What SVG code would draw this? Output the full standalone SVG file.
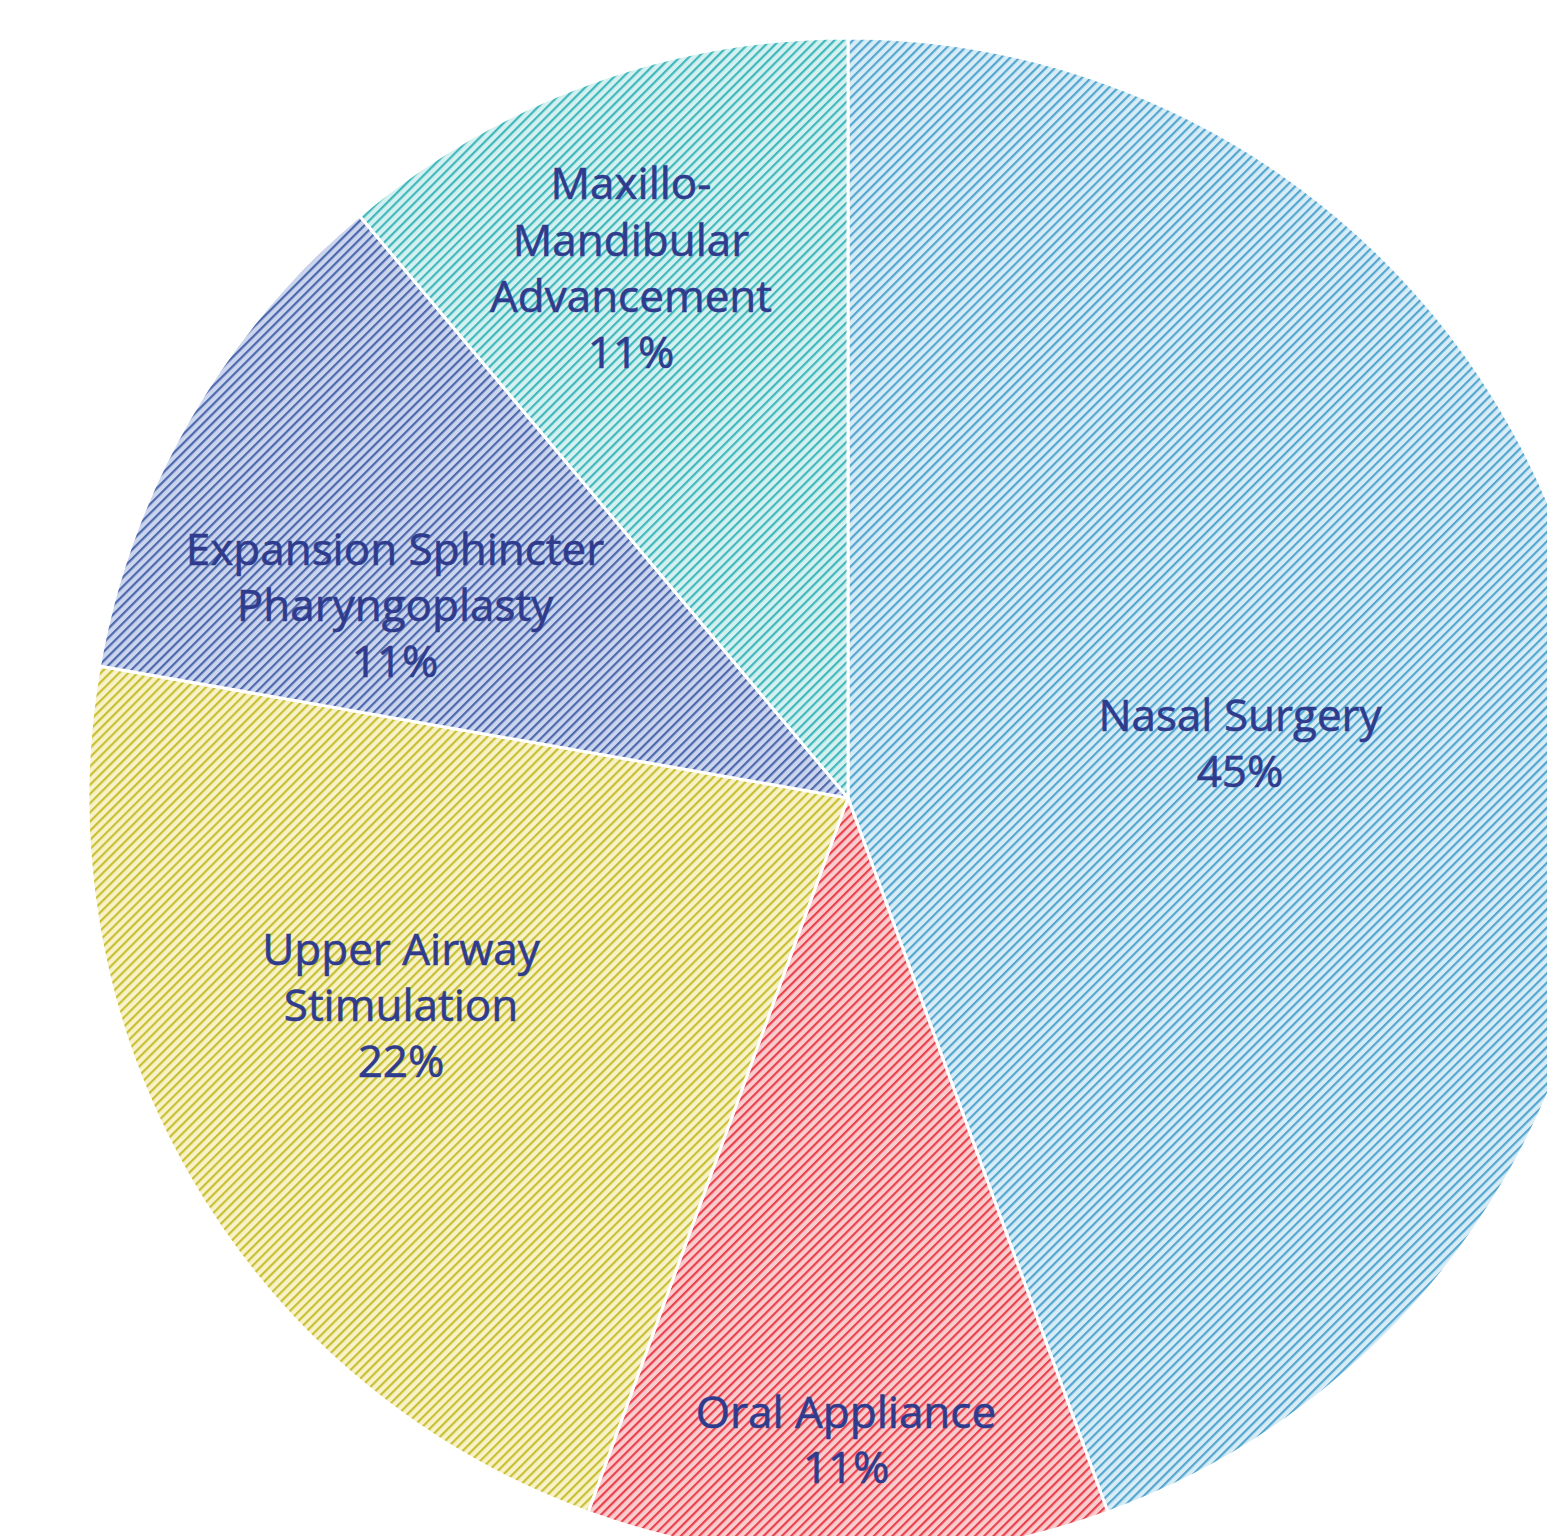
<svg xmlns="http://www.w3.org/2000/svg" width="1547" height="1536" viewBox="0 0 1547 1536">
<style>
.slice{stroke:#ffffff;stroke-width:3;stroke-linejoin:round}
.lbl{font-family:"Open Sans","DejaVu Sans",sans-serif;font-size:44px;fill:#2f3c8e;text-anchor:middle;stroke:#2f3c8e;stroke-width:0.6}
</style>
<defs>
<pattern id="hNasal" patternUnits="userSpaceOnUse" width="6.5" height="6.5" patternTransform="rotate(45)"><rect width="6.5" height="6.5" fill="#d8ecf6"/><rect width="2.2" height="6.5" fill="#52a6d0"/></pattern>
<pattern id="hOral" patternUnits="userSpaceOnUse" width="6.5" height="6.5" patternTransform="rotate(45)"><rect width="6.5" height="6.5" fill="#f9cccd"/><rect width="2.2" height="6.5" fill="#e8414e"/></pattern>
<pattern id="hUpper" patternUnits="userSpaceOnUse" width="6.5" height="6.5" patternTransform="rotate(45)"><rect width="6.5" height="6.5" fill="#f7f2c8"/><rect width="2.2" height="6.5" fill="#c8bf34"/></pattern>
<pattern id="hExp" patternUnits="userSpaceOnUse" width="6.5" height="6.5" patternTransform="rotate(45)"><rect width="6.5" height="6.5" fill="#cbd5ed"/><rect width="2.2" height="6.5" fill="#4d68ad"/></pattern>
<pattern id="hMax" patternUnits="userSpaceOnUse" width="6.5" height="6.5" patternTransform="rotate(45)"><rect width="6.5" height="6.5" fill="#d4f0f0"/><rect width="2.2" height="6.5" fill="#40b8bb"/></pattern>
</defs>
<rect width="1547" height="1536" fill="#ffffff"/>
<g id="nasal-surgery">
<path class="slice" fill="url(#hNasal)" d="M848,798 L848,38 A760,760 0 0 1 1107.94,1512.17 Z"/>
<text class="lbl" x="1240" y="731">Nasal Surgery</text>
<text class="lbl" x="1240" y="787">45%</text>
</g>
<g id="oral-appliance">
<path class="slice" fill="url(#hOral)" d="M848,798 L1107.94,1512.17 A760,760 0 0 1 588.06,1512.17 Z"/>
<text class="lbl" x="846" y="1428">Oral Appliance</text>
<text class="lbl" x="846" y="1483">11%</text>
</g>
<g id="upper-airway-stimulation">
<path class="slice" fill="url(#hUpper)" d="M848,798 L588.06,1512.17 A760,760 0 0 1 99.55,666.03 Z"/>
<text class="lbl" x="401" y="965">Upper Airway</text>
<text class="lbl" x="401" y="1021">Stimulation</text>
<text class="lbl" x="401" y="1077">22%</text>
</g>
<g id="expansion-sphincter-pharyngoplasty">
<path class="slice" fill="url(#hExp)" d="M848,798 L99.55,666.03 A760,760 0 0 1 359.48,215.81 Z"/>
<text class="lbl" x="395" y="565">Expansion Sphincter</text>
<text class="lbl" x="395" y="621">Pharyngoplasty</text>
<text class="lbl" x="395" y="677">11%</text>
</g>
<g id="maxillo-mandibular-advancement">
<path class="slice" fill="url(#hMax)" d="M848,798 L359.48,215.81 A760,760 0 0 1 848,38 Z"/>
<text class="lbl" x="631" y="199">Maxillo-</text>
<text class="lbl" x="631" y="256">Mandibular</text>
<text class="lbl" x="631" y="312">Advancement</text>
<text class="lbl" x="631" y="368">11%</text>
</g>
<g id="connectors"/>
</svg>
